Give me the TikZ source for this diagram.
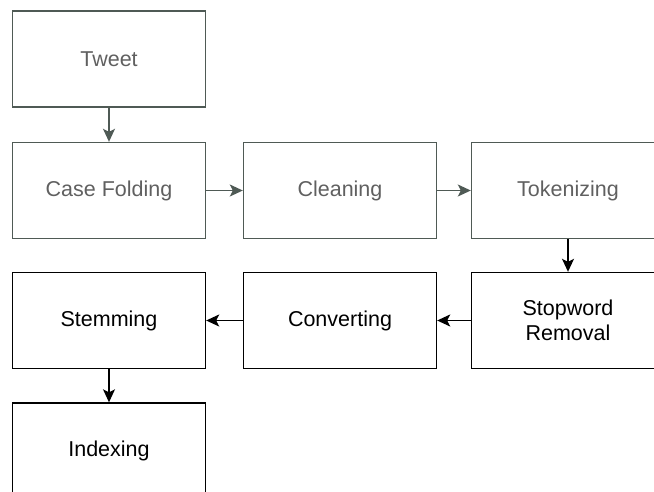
\documentclass[tikz,border=0pt]{standalone}
\usepackage{fontspec}
\setmainfont{Liberation Sans}
\usepackage{tikz}
\usetikzlibrary{arrows.meta}
\definecolor{fadeline}{HTML}{4F5A55}
\definecolor{fadetext}{HTML}{606060}
\tikzstyle{process} = [rectangle, minimum width=193pt, minimum height=96pt, text centered, align=center, draw=black, line width=1.4pt, font=\fontsize{21.5}{25}\selectfont]
\tikzstyle{faded} = [draw=fadeline, text=fadetext]
\tikzstyle{arrow} = [line width=1.4pt, -{Stealth[length=13pt, width=12pt, inset=3pt]}]

\begin{document}
\begin{tikzpicture}[x=1pt, y=1pt, node distance=130pt]
\clip (0,0) rectangle (654,-491);

\node (tweet) [process, faded] at (109,-59) {Tweet};
\node (fold) [process, faded, below of=tweet, yshift=-1.5pt] {Case Folding};
\node (clean) [process, faded, right of=fold, xshift=101pt] {Cleaning};
\node (token) [process, faded, right of=clean, xshift=98pt] {Tokenizing};
\node (stop) [process, below of=token] {Stopword\\Removal};
\node (conv) [process, below of=clean] {Converting};
\node (stem) [process, below of=fold] {Stemming};
\node (index) [process, below of=stem, yshift=-0.5pt] {Indexing};

\draw [arrow, fadeline] (tweet) -- (fold);
\draw [arrow, fadeline] (fold) -- (clean);
\draw [arrow, fadeline] (clean) -- (token);
\draw [arrow] (token) -- (stop);
\draw [arrow] (stop) -- (conv);
\draw [arrow] (conv) -- (stem);
\draw [arrow] (stem) -- (index);

\end{tikzpicture}
\end{document}
